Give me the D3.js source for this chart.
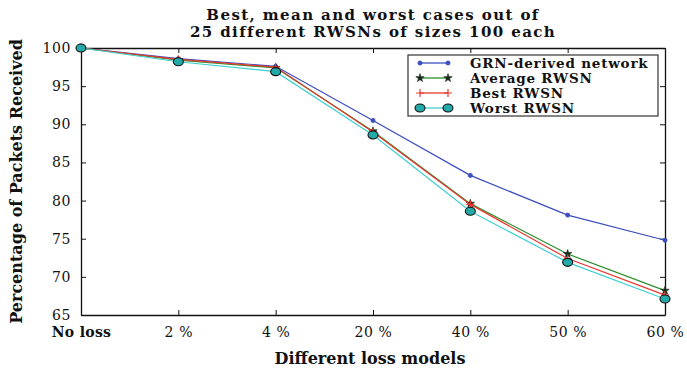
<!DOCTYPE html>
<html>
<head>
<meta charset="utf-8">
<script src="https://cdn.jsdelivr.net/npm/d3@7"></script>
<style>
  html, body { margin: 0; padding: 0; background: #fff; }
  svg { display: block; }
  text { font-family: "DejaVu Serif", "Liberation Serif", serif; fill: #111; }
</style>
</head>
<body>
<svg id="chart" width="687" height="372"></svg>
<script>
// Loss models on the x axis
const categories = ["No loss", "2 %", "4 %", "20 %", "40 %", "50 %", "60 %"];

// Percentage of packets received for each network
const grnValues   = [100, 98.6, 97.6, 90.5, 83.3, 78.1, 74.8];
const avgValues   = [100, 98.4, 97.4, 89.1, 79.6, 73.0, 68.2];
const bestValues  = [100, 98.5, 97.5, 89.0, 79.5, 72.4, 67.6];
const worstValues = [100, 98.2, 96.9, 88.6, 78.6, 71.9, 67.1];

const yTicks = [65, 70, 75, 80, 85, 90, 95, 100];

const titleLines = ["Best, mean and worst cases out of", "25 different RWSNs of sizes 100 each"];
const xTitle = "Different loss models";
const yTitle = "Percentage of Packets Received";

const series = [
  { name: "GRN-derived network", values: grnValues,   color: "#3b4dc0", marker: "dot" },
  { name: "Average RWSN",        values: avgValues,   color: "#2b8f2b", marker: "star" },
  { name: "Best RWSN",           values: bestValues,  color: "#e8382e", marker: "plus" },
  { name: "Worst RWSN",          values: worstValues, color: "#3fcfcf", marker: "circle" }
];

const svg = d3.select("#chart");
const plot = { left: 81, right: 665, top: 48, bottom: 315 };

const x = d3.scalePoint().domain(categories).range([plot.left, plot.right]);
const y = d3.scaleLinear().domain([65, 100]).range([plot.bottom, plot.top]);

// Title
svg.append("g").selectAll("text").data(titleLines).join("text")
  .attr("x", 373).attr("y", (d, i) => 20 + i * 17)
  .attr("text-anchor", "middle")
  .style("font-size", "15px").style("font-weight", "bold")
  .style("letter-spacing", "1.4px")
  .text(d => d);

// Axes: ticks point inward, mirrored on top and right
const tickLen = 5;
const bottomAxis = d3.axisBottom(x).tickSizeInner(-tickLen).tickSizeOuter(0).tickPadding(12);
const leftAxis = d3.axisLeft(y).tickValues(yTicks).tickSizeInner(-tickLen).tickSizeOuter(0).tickPadding(10);
const topAxis = d3.axisTop(x).tickSizeInner(-tickLen).tickSizeOuter(0).tickFormat("");
const rightAxis = d3.axisRight(y).tickValues(yTicks).tickSizeInner(-tickLen).tickSizeOuter(0).tickFormat("");

function styleAxis(g) {
  g.select(".domain").attr("stroke", "#111").attr("stroke-width", 1.3);
  g.selectAll(".tick line").attr("stroke", "#111").attr("stroke-width", 1);
  g.selectAll(".tick text")
    .style("font-family", '"DejaVu Serif", serif')
    .style("font-size", "14px")
    .style("letter-spacing", "0.6px")
    .attr("fill", "#333");
}

const bx = svg.append("g").attr("transform", `translate(0,${plot.bottom})`).call(bottomAxis).call(styleAxis);
bx.selectAll(".tick text").filter(d => d === "No loss")
  .style("font-weight", "bold").style("letter-spacing", "0.3px").attr("fill", "#111");
svg.append("g").attr("transform", `translate(${plot.left},0)`).call(leftAxis).call(styleAxis);
svg.append("g").attr("transform", `translate(0,${plot.top})`).call(topAxis).call(styleAxis);
svg.append("g").attr("transform", `translate(${plot.right},0)`).call(rightAxis).call(styleAxis);

// Axis titles
svg.append("text")
  .attr("x", 370).attr("y", 364)
  .attr("text-anchor", "middle")
  .style("font-size", "16px").style("font-weight", "bold")
  .text(xTitle);

svg.append("text")
  .attr("transform", `translate(22,${(plot.top + plot.bottom) / 2}) rotate(-90)`)
  .attr("text-anchor", "middle")
  .style("font-size", "16px").style("font-weight", "bold")
  .text(yTitle);

// Marker drawing
const star = d3.symbol().type(d3.symbolStar).size(22);
function drawMarker(g, type, color) {
  if (type === "dot") {
    g.append("circle").attr("r", 2).attr("fill", color).attr("stroke", color);
  } else if (type === "star") {
    g.append("path").attr("d", star()).attr("fill", "#1a2a1a").attr("stroke", "#1a2a1a").attr("stroke-width", 0.6);
  } else if (type === "plus") {
    g.append("path").attr("d", "M-4,0H4M0,-4V4").attr("stroke", color).attr("stroke-width", 1.2);
  } else if (type === "circle") {
    g.append("ellipse").attr("rx", 5).attr("ry", 4).attr("fill", "#22aaa8").attr("stroke", "#111").attr("stroke-width", 1.1);
  }
}

const line = d3.line().x((d, i) => x(categories[i])).y(d => y(d));

series.forEach(s => {
  const g = svg.append("g");
  g.append("path").datum(s.values)
    .attr("d", line)
    .attr("fill", "none")
    .attr("stroke", s.color)
    .attr("stroke-width", 1.2);
  s.values.forEach((v, i) => {
    const m = g.append("g").attr("transform", `translate(${x(categories[i])},${y(v)})`);
    drawMarker(m, s.marker, s.color);
  });
});

// Legend
const legend = svg.append("g").attr("transform", "translate(408,55)");
legend.append("rect").attr("width", 250).attr("height", 61)
  .attr("fill", "#fff").attr("stroke", "#333").attr("stroke-width", 1.2);
series.forEach((s, i) => {
  const yy = 8 + i * 15;
  const row = legend.append("g").attr("transform", `translate(0,${yy})`);
  row.append("line").attr("x1", 12).attr("x2", 40).attr("y1", 0).attr("y2", 0)
    .attr("stroke", s.color).attr("stroke-width", 1.3);
  [12, 40].forEach(px => drawMarker(row.append("g").attr("transform", `translate(${px},0)`), s.marker, s.color));
  row.append("text").attr("x", 62).attr("y", 4.5)
    .style("font-size", "13.5px").style("font-weight", "bold")
    .style("letter-spacing", "0.8px")
    .text(s.name);
});
</script>
</body>
</html>
